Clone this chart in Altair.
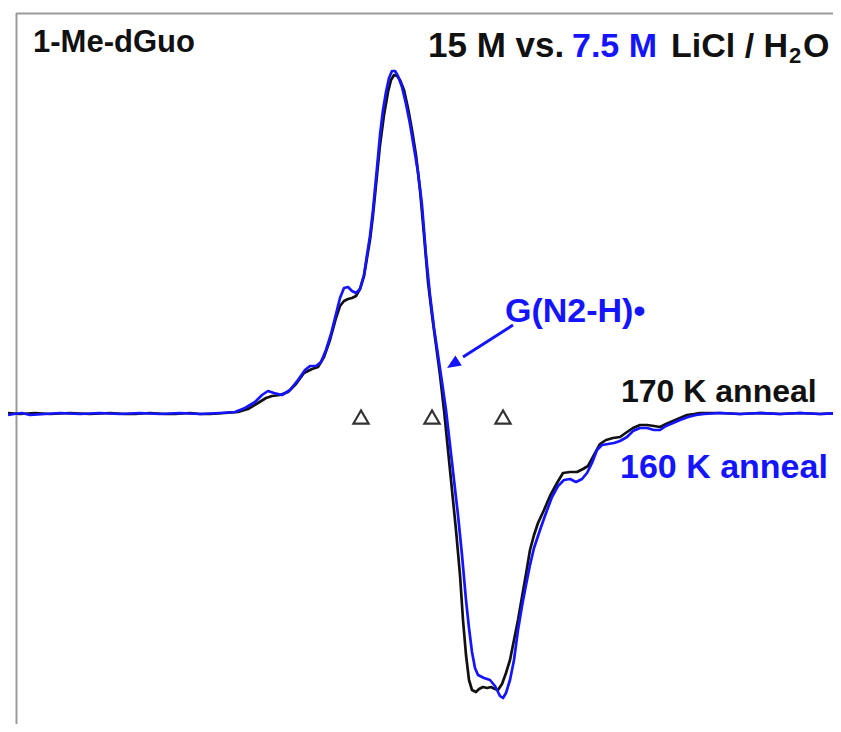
import altair as alt
import pandas as pd

# ---- spectrum data (field in arbitrary units, signal in arbitrary units) ----
black_field = [8, 20, 35, 50, 70, 90, 110, 125, 135, 150, 165, 175, 190, 200, 210, 225,
               238, 248, 258, 266, 272, 280, 288, 296, 304, 312, 318, 324, 330, 336, 340, 344,
               348, 352, 356, 360, 364, 367, 370, 373, 377, 380, 384, 388, 391, 394, 397, 400,
               404, 408, 412, 416, 420, 424, 428, 432, 436, 440, 444, 448, 452, 456, 460, 463,
               466, 469, 472, 476, 479, 483, 487, 491, 495, 498, 502, 506, 510, 514, 518, 522,
               526, 530, 534, 538, 544, 550, 557, 563, 570, 577, 583, 588, 594, 600, 606, 613,
               620, 627, 633, 640, 647, 654, 660, 666, 673, 680, 687, 694, 700, 720, 740, 760,
               780, 800, 820, 841]
black_signal = [0, -1, 0, -1, 0, -1, 0, -1, -1, 0, -1, -1, 0, -1, -1, 0,
                1, 4, 10, 15, 17, 18, 21, 29, 40, 44, 46, 56, 73, 95, 107, 112,
                114, 115, 117, 124, 137, 155, 173, 198, 238, 268, 298, 321, 333, 338, 337, 333,
                323, 305, 283, 258, 223, 178, 131, 98, 68, 38, 3, -37, -77, -117, -162, -207,
                -242, -267, -277, -279, -276, -274, -275, -274, -276, -277, -271, -260, -247, -227, -207, -184,
                -161, -137, -122, -110, -97, -83, -70, -60, -59, -59, -56, -53, -42, -31, -27, -25,
                -24, -19, -15, -12, -12, -13, -14, -11, -8, -5, -2, -1, 0, 0, -1, 0,
                -1, 0, -1, 0]

blue_field = [8, 14, 22, 30, 45, 60, 80, 100, 120, 140, 160, 180, 200, 220, 235, 245,
              255, 262, 268, 274, 282, 290, 298, 305, 310, 316, 321, 326, 331, 336, 340, 344,
              348, 352, 356, 360, 364, 367, 370, 373, 377, 380, 383, 386, 389, 392, 395, 398,
              402, 406, 410, 414, 418, 422, 426, 430, 434, 438, 442, 446, 450, 454, 458, 462,
              466, 469, 472, 475, 478, 484, 490, 495, 500, 503, 506, 510, 514, 518, 522, 526,
              530, 534, 540, 546, 552, 558, 564, 570, 576, 582, 587, 592, 597, 602, 608, 614,
              620, 627, 633, 640, 647, 654, 660, 666, 673, 680, 688, 696, 704, 720, 740, 760,
              780, 800, 820, 841]
blue_signal = [-2, -1, 0, -2, -1, 0, -1, 0, -1, 0, -1, 0, -1, 0, 1, 5,
               11, 18, 22, 20, 18, 23, 33, 43, 47, 47, 51, 63, 79, 99, 115, 125,
               126, 122, 120, 124, 138, 158, 177, 203, 245, 278, 303, 321, 335, 342, 342, 337,
               326, 309, 289, 265, 241, 208, 158, 118, 85, 58, 31, 3, -32, -67, -102, -142,
               -187, -215, -239, -255, -262, -265, -267, -273, -283, -285, -280, -267, -247, -217, -193, -172,
               -152, -135, -117, -100, -84, -73, -67, -66, -69, -66, -60, -50, -37, -32, -31, -30,
               -28, -24, -18, -15, -15, -17, -17, -13, -10, -7, -4, -2, -1, 0, -1, 0,
               -1, 0, -1, 0]

marker_field = [361, 432, 503]
marker_signal = [-4, -4, -4]

title_parts = ["15 M vs.", "7.5 M", "LiCl / H", "2", "O"]
sample_label = "1-Me-dGuo"
radical_label = "G(N2-H)•"
black_label = "170 K anneal"
blue_label = "160 K anneal"

BLACK = "#111111"
BLUE = "#1414ff"
FONT = "Liberation Sans"

black_df = pd.DataFrame({"field": black_field, "signal": black_signal})
blue_df = pd.DataFrame({"field": blue_field, "signal": blue_signal})
marker_df = pd.DataFrame({"field": marker_field, "signal": marker_signal})

W, H = 817, 711
xs = alt.Scale(domain=[16, 833], nice=False, zero=False)
ys = alt.Scale(domain=[-311, 400], nice=False, zero=False)


def curve(df, color):
    return alt.Chart(df).mark_line(color=color, strokeWidth=2.7, strokeJoin="round").encode(
        x=alt.X("field:Q", scale=xs, axis=None),
        y=alt.Y("signal:Q", scale=ys, axis=None),
        order="field:Q",
    )


def label(text, x, y, size, color=BLACK):
    return alt.Chart(pd.DataFrame({"t": [text]})).mark_text(
        align="left", baseline="alphabetic", font=FONT, fontWeight="bold",
        fontSize=size, color=color,
    ).encode(text="t:N", x=alt.value(x), y=alt.value(y))


one = pd.DataFrame({"k": [0]})
frame_left = alt.Chart(one).mark_rule(color="#9a9a9a", strokeWidth=2).encode(
    x=alt.value(0.5), y=alt.value(0), y2=alt.value(H))
frame_top = alt.Chart(one).mark_rule(color="#9a9a9a", strokeWidth=2).encode(
    x=alt.value(0), x2=alt.value(W), y=alt.value(0.5))

markers = alt.Chart(marker_df).mark_point(
    shape="triangle-up", filled=False, size=230, color="#333333", strokeWidth=2.2, opacity=1
).encode(x=alt.X("field:Q", scale=xs), y=alt.Y("signal:Q", scale=ys))

arrow_shaft = alt.Chart(one).mark_rule(color=BLUE, strokeWidth=3).encode(
    x=alt.value(497), y=alt.value(312), x2=alt.value(447), y2=alt.value(344))
arrow_head = alt.Chart(one).mark_point(
    shape="M0,0L-0.85,2L0.85,2Z", filled=True, size=190, color=BLUE, opacity=1, angle=237
).encode(x=alt.value(431), y=alt.value(355))

chart = alt.layer(
    frame_left, frame_top,
    curve(black_df, BLACK), curve(blue_df, BLUE),
    markers, arrow_shaft, arrow_head,
    label(sample_label, 17, 39, 31),
    label(title_parts[0], 412, 44, 35),
    label(title_parts[1], 556, 44, 34, BLUE),
    label(title_parts[2], 655, 44, 34),
    label(title_parts[3], 773, 50, 22),
    label(title_parts[4], 787, 44, 34),
    label(radical_label, 489, 309, 34, BLUE),
    label(black_label, 605, 389, 32),
    label(blue_label, 604, 465, 34, BLUE),
).properties(
    width=W, height=H,
    padding={"left": 8, "top": 5, "right": 0, "bottom": 0},
    autosize=alt.AutoSizeParams(type="none"),
).configure_view(stroke=None)

chart.save("out.html", embed_options={"renderer": "svg", "actions": False})
